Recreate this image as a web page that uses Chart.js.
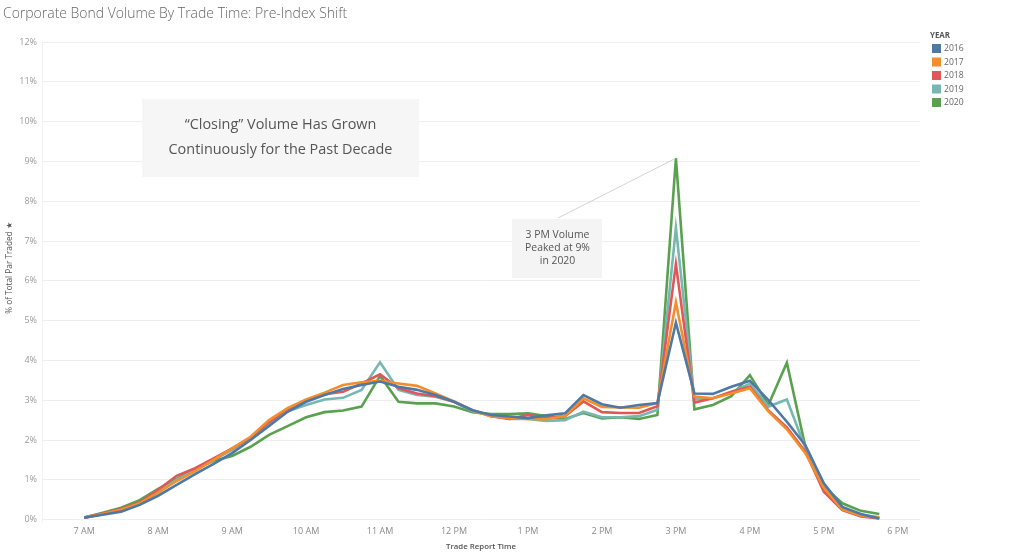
<!DOCTYPE html>
<html>
<head>
<meta charset="utf-8">
<script src="https://cdn.jsdelivr.net/npm/chart.js@4.4.1/dist/chart.umd.min.js"></script>
<style>
  html, body { margin: 0; padding: 0; background: #ffffff; }
  #wrap { width: 1024px; height: 557px; position: relative; }
</style>
</head>
<body>
<div id="wrap"><canvas id="c" width="1024" height="557"></canvas></div>
<script>
// ---- Data ----
const chartTitle = 'Corporate Bond Volume By Trade Time: Pre-Index Shift';
const xAxisTitle = 'Trade Report Time';
const yAxisTitle = '% of Total Par Traded \u2605';
const legendTitle = 'YEAR';
const years = ['2016', '2017', '2018', '2019', '2020'];
const colors = ['#4e79a7', '#f28e2b', '#e15759', '#76b7b2', '#59a14f'];

// trade times in decimal hours (15-minute buckets, 7:00 AM .. 5:45 PM)
const times = [7, 7.25, 7.5, 7.75, 8, 8.25, 8.5, 8.75, 9, 9.25, 9.5, 9.75,
  10, 10.25, 10.5, 10.75, 11, 11.25, 11.5, 11.75, 12, 12.25, 12.5, 12.75,
  13, 13.25, 13.5, 13.75, 14, 14.25, 14.5, 14.75, 15, 15.25, 15.5, 15.75,
  16, 16.25, 16.5, 16.75, 17, 17.25, 17.5, 17.75];

const tickHours = [7, 8, 9, 10, 11, 12, 13, 14, 15, 16, 17, 18];
const tickLabels = ['7 AM', '8 AM', '9 AM', '10 AM', '11 AM', '12 PM', '1 PM', '2 PM', '3 PM', '4 PM', '5 PM', '6 PM'];
const yTicks = [0, 1, 2, 3, 4, 5, 6, 7, 8, 9, 10, 11, 12];

const v2016 = [0.05, 0.12, 0.20, 0.37, 0.60, 0.87, 1.14, 1.40, 1.67, 2.00, 2.35, 2.71,
  2.96, 3.13, 3.28, 3.38, 3.47, 3.34, 3.26, 3.13, 2.96, 2.75, 2.63, 2.59,
  2.55, 2.62, 2.67, 3.13, 2.90, 2.81, 2.88, 2.93, 4.95, 3.17, 3.16, 3.34,
  3.49, 3.00, 2.46, 1.87, 0.91, 0.32, 0.14, 0.03];
const v2017 = [0.05, 0.14, 0.25, 0.41, 0.68, 0.97, 1.22, 1.50, 1.79, 2.08, 2.50, 2.80,
  3.02, 3.19, 3.38, 3.45, 3.49, 3.42, 3.36, 3.17, 2.97, 2.74, 2.60, 2.55,
  2.53, 2.52, 2.60, 3.05, 2.83, 2.82, 2.81, 2.93, 5.46, 3.09, 3.05, 3.17,
  3.30, 2.72, 2.27, 1.67, 0.80, 0.26, 0.10, 0.05];
const v2018 = [0.05, 0.15, 0.27, 0.43, 0.75, 1.10, 1.29, 1.54, 1.79, 2.06, 2.45, 2.78,
  3.00, 3.15, 3.21, 3.42, 3.65, 3.30, 3.17, 3.10, 2.96, 2.75, 2.60, 2.53,
  2.63, 2.55, 2.60, 2.97, 2.70, 2.68, 2.68, 2.85, 6.42, 2.94, 3.05, 3.21,
  3.34, 2.74, 2.32, 1.71, 0.70, 0.24, 0.08, 0.03];
const v2019 = [0.05, 0.14, 0.25, 0.42, 0.70, 1.00, 1.25, 1.50, 1.75, 2.05, 2.42, 2.72,
  2.88, 3.02, 3.06, 3.26, 3.95, 3.26, 3.13, 3.09, 2.96, 2.72, 2.62, 2.53,
  2.53, 2.48, 2.50, 2.71, 2.57, 2.57, 2.60, 2.76, 7.33, 3.02, 3.05, 3.20,
  3.42, 2.84, 3.02, 1.80, 0.78, 0.28, 0.12, 0.06];
const v2020 = [0.05, 0.17, 0.30, 0.49, 0.77, 1.02, 1.27, 1.48, 1.60, 1.83, 2.13, 2.35,
  2.57, 2.70, 2.74, 2.84, 3.61, 2.96, 2.92, 2.92, 2.84, 2.70, 2.65, 2.65,
  2.67, 2.60, 2.53, 2.68, 2.54, 2.57, 2.53, 2.63, 9.08, 2.77, 2.88, 3.10,
  3.63, 2.88, 3.94, 1.83, 0.83, 0.41, 0.22, 0.14];
const seriesValues = [v2016, v2017, v2018, v2019, v2020];

const noteBig = ['\u201CClosing\u201D Volume Has Grown', 'Continuously for the Past Decade'];
const noteSmall = ['3 PM Volume', 'Peaked at 9%', 'in 2020'];
const notePeakTime = 15;
const notePeakValue = 9.08;

// ---- Build chart ----
const FONT = '"Open Sans", "Noto Sans", sans-serif';

function fitFont(ctx, text, targetW, weight, family) {
  ctx.font = weight + ' 20px ' + family;
  const w = ctx.measureText(text).width;
  const size = 20 * targetW / w;
  return weight + ' ' + size.toFixed(2) + 'px ' + family;
}

const datasets = years.map((y, i) => ({
  label: y,
  data: times.map((t, j) => ({ x: t, y: seriesValues[i][j] })),
  borderColor: colors[i],
  backgroundColor: colors[i],
  borderWidth: 2.6,
  pointRadius: 0,
  tension: 0,
  fill: false
}));

const decorPlugin = {
  id: 'decor',
  beforeDraw(chart) {
    const ctx = chart.ctx;
    ctx.save();
    ctx.fillStyle = '#ffffff';
    ctx.fillRect(0, 0, chart.width, chart.height);
    ctx.restore();
  },
  afterDraw(chart) {
    const ctx = chart.ctx;
    const xs = chart.scales.x, ys = chart.scales.y;
    ctx.save();
    // Title
    ctx.fillStyle = '#666666';
    ctx.textBaseline = 'middle';
    ctx.textAlign = 'left';
    ctx.font = fitFont(ctx, chartTitle, 344, '300', FONT);
    ctx.fillText(chartTitle, 3, 14);

    // Y axis title
    ctx.save();
    ctx.translate(10, 268);
    ctx.rotate(-Math.PI / 2);
    ctx.textAlign = 'center';
    ctx.fillStyle = '#555555';
    ctx.font = fitFont(ctx, yAxisTitle, 92, '400', FONT);
    ctx.fillText(yAxisTitle, 0, 0);
    ctx.restore();

    // X axis title
    ctx.textAlign = 'center';
    ctx.fillStyle = '#555555';
    ctx.font = fitFont(ctx, xAxisTitle, 70, '600', FONT);
    ctx.fillText(xAxisTitle, (chart.chartArea.left + chart.chartArea.right) / 2, 547);

    // Legend
    ctx.textAlign = 'left';
    ctx.fillStyle = '#555555';
    ctx.font = fitFont(ctx, legendTitle, 20, '700', FONT);
    ctx.fillText(legendTitle, 930, 36);
    years.forEach((y, i) => {
      const top = 44 + i * 13.5;
      ctx.fillStyle = colors[i];
      ctx.fillRect(932, top, 9, 9);
      ctx.fillStyle = '#666666';
      ctx.font = '400 8.6px ' + FONT;
      ctx.fillText(y, 944, top + 4.8);
    });

    // Big annotation box
    ctx.fillStyle = '#f6f6f6';
    ctx.fillRect(142, 99, 277, 78);
    ctx.fillStyle = '#555555';
    ctx.textAlign = 'center';
    ctx.font = fitFont(ctx, noteBig[1], 224, '400', FONT);
    ctx.fillText(noteBig[0], 280.5, 124.5);
    ctx.fillText(noteBig[1], 280.5, 150);

    // Connector line to peak
    const px = xs.getPixelForValue(notePeakTime);
    const py = ys.getPixelForValue(notePeakValue);
    ctx.strokeStyle = '#d4d4d4';
    ctx.lineWidth = 1;
    ctx.beginPath();
    ctx.moveTo(558, 218);
    ctx.lineTo(px - 1, py + 0.5);
    ctx.stroke();

    // Small annotation box
    ctx.fillStyle = '#f4f4f4';
    ctx.fillRect(512, 219, 90, 59);
    ctx.fillStyle = '#555555';
    ctx.font = fitFont(ctx, noteSmall[1], 65, '400', FONT);
    ctx.fillText(noteSmall[0], 557.5, 235);
    ctx.fillText(noteSmall[1], 557.5, 248);
    ctx.fillText(noteSmall[2], 557.5, 261);
    ctx.restore();
  }
};

new Chart(document.getElementById('c'), {
  type: 'line',
  data: { datasets },
  plugins: [decorPlugin],
  options: {
    responsive: false,
    animation: false,
    devicePixelRatio: 1,
    layout: { padding: { top: 42, right: 104, bottom: 0, left: 0 } },
    plugins: {
      legend: { display: false },
      title: { display: false },
      tooltip: { enabled: false }
    },
    elements: { line: { borderJoinStyle: 'miter', borderCapStyle: 'butt' } },
    scales: {
      x: {
        type: 'linear',
        min: 6.43,
        max: 18.3,
        afterBuildTicks(scale) { scale.ticks = tickHours.map(v => ({ value: v })); },
        afterFit(scale) { scale.height = 35; },
        ticks: {
          padding: 4,
          color: '#8a8a8a',
          font: { size: 9, family: FONT },
          autoSkip: false,
          maxRotation: 0,
          callback: (v) => tickLabels[tickHours.indexOf(v)]
        },
        grid: { display: false, drawTicks: false },
        border: { display: false }
      },
      y: {
        min: -0.06,
        max: 12,
        afterBuildTicks(scale) { scale.ticks = yTicks.map(v => ({ value: v })); },
        afterFit(scale) { scale.width = 42; },
        ticks: {
          padding: 5,
          color: '#9a9a9a',
          font: { size: 9, family: FONT },
          callback: (v) => v + '%'
        },
        grid: { color: '#eeeeee', lineWidth: 1, drawTicks: false },
        border: { display: true, color: '#f2f2f2' }
      }
    }
  }
});
</script>
</body>
</html>
